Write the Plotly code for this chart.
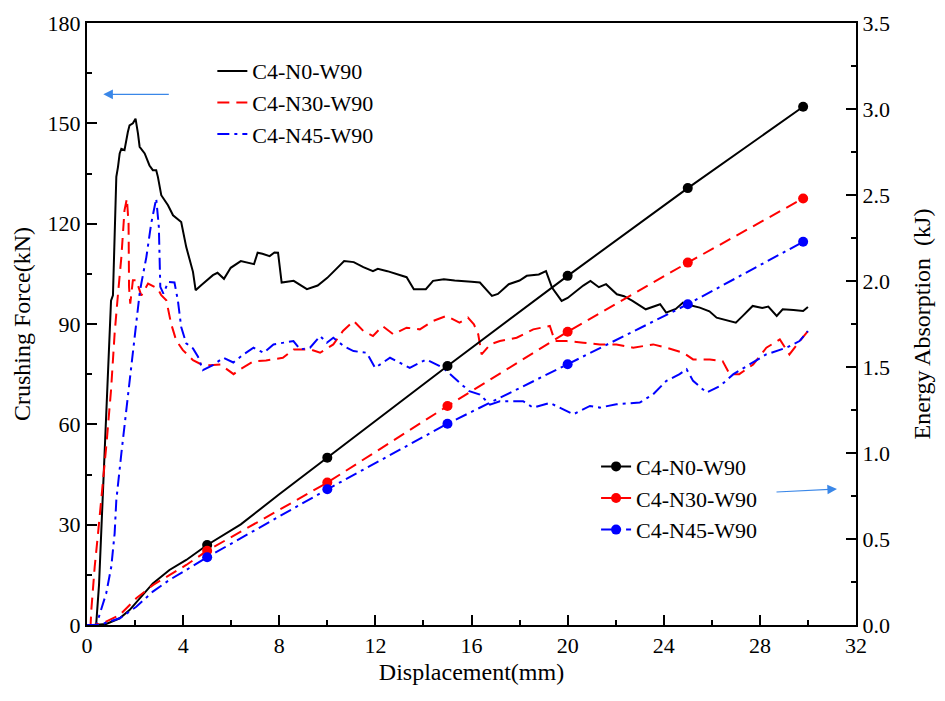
import plotly.graph_objects as go

# ---------------- data ----------------
series_names = ["C4-N0-W90", "C4-N30-W90", "C4-N45-W90"]

# Crushing force curves (left axis)
disp_n0 = [0, 0.38, 0.5, 0.6, 0.73, 0.87, 1.0, 1.08, 1.15, 1.22, 1.29, 1.36, 1.43, 1.56, 1.7, 1.77,
           1.91, 2.02, 2.12, 2.19, 2.4, 2.6, 2.74, 2.88, 2.95, 3.09, 3.37, 3.58, 3.92, 4.13, 4.41,
           4.52, 4.75, 5.24, 5.43, 5.7, 5.98, 6.4, 6.95, 7.1, 7.3, 7.6, 7.8, 7.95, 8.1, 8.6, 9.15,
           9.6, 10.0, 10.4, 10.7, 11.1, 11.5, 11.9, 12.1, 12.5, 13.0, 13.3, 13.6, 14.1, 14.4,
           14.85, 15.3, 15.6, 16.0, 16.35, 16.85, 17.1, 17.55, 18.0, 18.3, 18.8, 19.1, 19.35,
           19.75, 20.0, 20.35, 20.65, 20.95, 21.3, 21.6, 22.05, 22.35, 22.7, 23.25, 23.85, 24.1,
           24.5, 24.8, 25.1, 25.5, 25.9, 26.2, 26.6, 27.0, 27.3, 27.7, 28.1, 28.35, 28.7, 28.95,
           29.4, 29.8, 30.0]
force_n0 = [0, 0, 12, 30, 53, 76, 97, 98.6, 120, 134, 137, 141, 142.4, 142, 147.4, 149.4,
            150, 151.4, 147, 143, 141, 137.4, 136, 136, 134, 128.5, 125.5, 122.5, 120.5, 113, 105.6,
            100.1, 101.6, 104.6, 105.3, 103.5, 106.8, 108.8, 107.9, 111.3, 111.0, 110.3, 111.4, 111.3, 102.4, 102.9, 100.4,
            101.5, 103.8, 106.5, 108.8, 108.5, 107, 105.8, 106.5, 105.8, 104.6, 104.0, 100.4, 100.4, 102.9,
            103.4, 103, 102.9, 102.6, 102.4, 98.4, 99, 101.9, 103, 104.4, 104.8, 105.8, 100.9,
            96.9, 97.8, 99.9, 101.5, 102.9, 101, 101.9, 98.9, 98.3, 96.9, 94.4, 95.9, 93.4,
            94.5, 96.4, 95.6, 94.9, 93.8, 91.9, 91.2, 90.4, 92.5, 95.4, 94.8, 95.2, 92.4, 94.4,
            94.2, 93.9, 95.1]

disp_n30 = [0, 0.15, 0.18, 0.32, 0.46, 0.6, 0.8, 1.0, 1.15, 1.29, 1.43, 1.56, 1.66, 1.73, 1.75,
            1.8, 1.91, 2.05, 2.26, 2.54, 2.94, 3.09, 3.3, 3.5, 3.71, 3.99, 4.41, 4.68, 5.1, 5.55,
            6.1, 6.38, 6.95, 7.45, 8.15, 8.6, 9.3, 9.7, 10.25, 10.65, 11.1, 11.5, 11.9, 12.3,
            12.75, 13.3, 13.85, 14.4, 14.95, 15.5, 15.85, 16.1, 16.28, 16.42, 16.78, 17.18,
            17.88, 18.57, 19.26, 19.47, 19.96, 20.65, 21.34, 22.03, 22.73, 23.56, 24.12, 24.81,
            25.22, 25.92, 26.45, 26.74, 27.14, 27.72, 28.27, 28.83, 29.23, 29.66, 30.0]
force_n30 = [0, 0, 4.5, 17.4, 27.4, 37.3, 53.3, 70.2, 87.2, 99, 110, 124, 127.5, 120, 101,
             96.1, 103.1, 103.1, 98.5, 102.1, 100.6, 98.6, 97.1, 90.1, 85.1, 82.2, 79.2, 78.2, 77.7, 77.9,
             75.0, 76.5, 78.9, 79.1, 79.9, 82.4, 82.4, 81.4, 83.9, 87.9, 90.9, 87.9, 86.4, 89.4,
             86.9, 88.9, 88.4, 90.9, 92.4, 90.4, 91.9, 89.9, 86.9, 80.9, 83.9, 84.9,
             85.9, 88.4, 89.4, 84.9, 84.9, 84.4, 83.9, 83.9, 82.9, 83.9, 82.9, 81.4,
             79.4, 79.4, 78.9, 75.0, 75.0, 77.9, 82.9, 85.4, 80.9, 84.9, 87.9]

disp_n45 = [0, 0.39, 0.8, 1.01, 1.15, 1.22, 1.43, 1.63, 1.84, 2.05, 2.19, 2.26, 2.47, 2.67, 2.88,
            2.99, 3.05, 3.18, 3.38, 3.64, 3.78, 3.92, 4.13, 4.41, 4.62, 4.82, 5.24, 5.67, 6.09,
            6.51, 6.93, 7.35, 7.76, 8.59, 8.87, 9.28, 9.7, 9.98, 10.25, 10.68, 11.09, 11.64,
            11.99, 12.61, 13.43, 14.12, 14.82, 15.51, 15.91, 16.35, 16.77, 17.18, 18.15, 18.56,
            19.26, 20.24, 20.93, 21.34, 22.03, 23.0, 23.56, 24.11, 24.66, 24.95, 25.22, 25.78,
            26.35, 26.9, 27.54, 28.26, 29.1, 29.65, 30.0]
force_n45 = [0, 0, 9.5, 17.4, 27.4, 37.3, 51.3, 64.2, 78.2, 90.1, 99.1, 102.1, 110, 120, 127.5,
             119, 101.1, 99.1, 102.6, 102.4, 97.1, 89.1, 84.2, 82.7, 80.2, 76.2, 77.7, 79.9, 78.5,
             80.9, 82.9, 81.4, 83.9, 84.9, 82.4, 82.9, 86.4, 84.4, 85.9, 83.4, 81.9, 81.4,
             76.9, 79.9, 76.9, 79.4, 76.9, 72.4, 69.9, 68.9, 65.9, 66.9, 66.9, 65.0,
             66.4, 63.0, 65.5, 65.0, 66.0, 66.5, 69.0, 73.0, 75.0, 76.5, 73.0, 69.5,
             71.5, 75.0, 77.9, 80.9, 82.9, 84.9, 87.9]

# Energy absorption curves (right axis)
edisp_n0 = [0, 0.25, 0.8, 1.36, 1.77, 2.19, 2.74, 3.43, 4.13, 5, 6.4, 8.0, 10, 15, 20, 25, 29.8]
energy_n0 = [0, 0, 0.006, 0.039, 0.087, 0.155, 0.242, 0.32, 0.378, 0.465, 0.585, 0.76, 0.973,
             1.506, 2.03, 2.54, 3.013]
edisp_n30 = [0, 0.3, 0.66, 1.36, 2.05, 2.74, 3.43, 4.13, 5, 10, 15, 20, 25, 29.8]
energy_n30 = [0, 0, 0.01, 0.058, 0.155, 0.232, 0.29, 0.349, 0.432, 0.828, 1.273, 1.705, 2.107, 2.48]
edisp_n45 = [0, 0.5, 1.36, 2.05, 2.74, 3.43, 4.13, 5, 10, 15, 20, 25, 29.8]
energy_n45 = [0, 0, 0.039, 0.106, 0.194, 0.262, 0.32, 0.394, 0.789, 1.17, 1.516, 1.865, 2.228]

marker_disp = [5, 10, 15, 20, 25, 29.8]

# ---------------- styles ----------------
FONT = "Liberation Serif, Times New Roman, serif"
colors = ["#000000", "#ff0000", "#0000ff"]
dashes = ["solid", "12px,7px", "12px,5px,3px,5px"]

force_x = [disp_n0, disp_n30, disp_n45]
force_y = [force_n0, force_n30, force_n45]
energy_x = [edisp_n0, edisp_n30, edisp_n45]
energy_y = [energy_n0, energy_n30, energy_n45]

fig = go.Figure()

# force curves (legend 1)
for name, xs, ys, c, d in zip(series_names, force_x, force_y, colors, dashes):
    fig.add_trace(go.Scatter(x=xs, y=ys, mode="lines", name=name,
                             line=dict(color=c, width=2, dash=d),
                             legend="legend", yaxis="y"))

# energy curves: line + markers at the marked displacements, legend entry separately (legend 2)
for name, xs, ys, c, d in zip(series_names, energy_x, energy_y, colors, dashes):
    fig.add_trace(go.Scatter(x=xs, y=ys, mode="lines", name=name, showlegend=False,
                             line=dict(color=c, width=2, dash=d), yaxis="y2"))
    mx = [x for x in xs if x in marker_disp]
    my = [y for x, y in zip(xs, ys) if x in marker_disp]
    fig.add_trace(go.Scatter(x=mx, y=my, mode="markers", name=name, showlegend=False,
                             marker=dict(color=c, size=10, symbol="circle"), yaxis="y2"))
    fig.add_trace(go.Scatter(x=[None], y=[None], mode="lines+markers", name=name,
                             line=dict(color=c, width=2, dash=d),
                             marker=dict(color=c, size=10, symbol="circle"),
                             legend="legend2", yaxis="y2"))

W, H = 945, 701
L, R, T, B = 87, 89, 23, 76

axis_common = dict(showline=True, linecolor="black", linewidth=2, showgrid=False,
                   zeroline=False, ticks="inside", tickcolor="black", tickwidth=1.5,
                   ticklen=10, tickfont=dict(family=FONT, size=22, color="black"))

fig.update_layout(
    width=W, height=H,
    margin=dict(l=L, r=R, t=T, b=B, pad=0),
    paper_bgcolor="white", plot_bgcolor="white",
    font=dict(family=FONT, color="black"),
    xaxis=dict(range=[0, 32], dtick=4, mirror=True,
               minor=dict(dtick=2, ticklen=5, ticks="inside", tickcolor="black", tickwidth=1.5),
               title=dict(text="Displacement(mm)", font=dict(family=FONT, size=24), standoff=6),
               **axis_common),
    yaxis=dict(range=[0, 180], dtick=30,
               minor=dict(dtick=15, ticklen=5, ticks="inside", tickcolor="black", tickwidth=1.5),
               title=dict(text="Crushing Force(kN)", font=dict(family=FONT, size=24), standoff=10),
               **axis_common),
    yaxis2=dict(range=[0, 3.5], dtick=0.5, tickformat=".1f", overlaying="y", side="right",
                minor=dict(dtick=0.25, ticklen=5, ticks="inside", tickcolor="black", tickwidth=1.5),
                title=dict(text="Energy Absorption  (kJ)", font=dict(family=FONT, size=24), standoff=24),
                **axis_common),
    legend=dict(x=0.163, y=0.955, xanchor="left", yanchor="top", bgcolor="rgba(0,0,0,0)",
                borderwidth=0, font=dict(family=FONT, size=22, color="black")),
    legend2=dict(x=0.662, y=0.298, xanchor="left", yanchor="top", bgcolor="rgba(0,0,0,0)",
                 borderwidth=0, font=dict(family=FONT, size=22, color="black")),
    annotations=[
        dict(xref="paper", yref="paper", x=0.0212, y=0.8815, ax=67, ay=0, text="",
             showarrow=True, arrowhead=2, arrowsize=1.6, arrowwidth=1.2, arrowcolor="#3a87e8"),
        dict(xref="paper", yref="paper", x=0.9753, y=0.2258, ax=-62, ay=3, text="",
             showarrow=True, arrowhead=2, arrowsize=1.6, arrowwidth=1.2, arrowcolor="#3a87e8"),
    ],
)

fig.write_html("out.html")
